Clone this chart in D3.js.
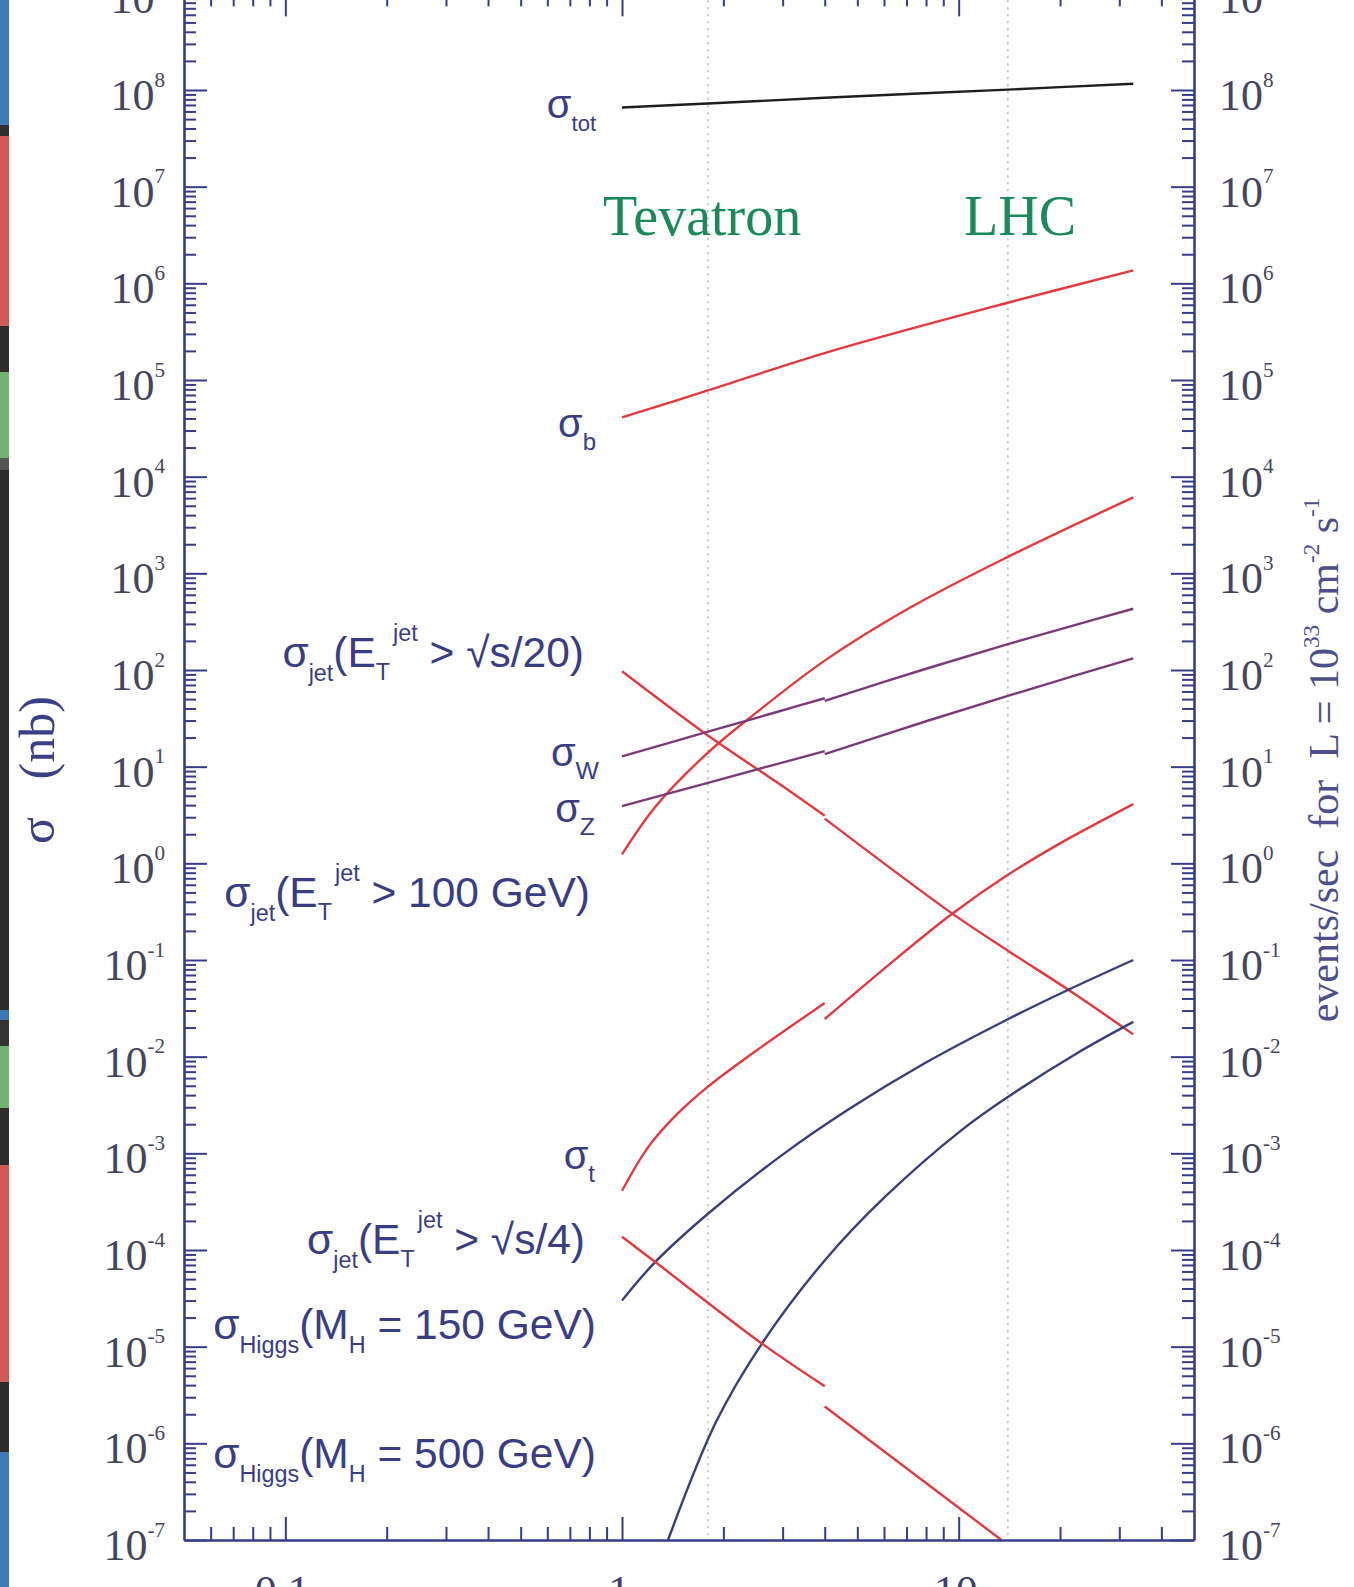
<!DOCTYPE html>
<html>
<head>
<meta charset="utf-8">
<script src="https://cdn.jsdelivr.net/npm/d3@7"></script>
<style>
  body { margin: 0; background: #fff; }
  svg { display: block; }
  text { white-space: pre; }
</style>
</head>
<body>
<svg id="chart" width="1354" height="1587"></svg>
<script>
// Cross sections (nb) versus collider energy sqrt(s) (TeV).
// Below 4 TeV the curves are for p-pbar, above 4 TeV for p-p.
const sigmaTot        = [[1, 6.6e7], [1.8, 7.25e7], [4, 8.3e7], [14, 1.01e8], [33, 1.16e8]];
const sigmaB          = [[1, 4.1e4], [1.8, 7.8e4], [4, 1.9e5], [14, 6.3e5], [33, 1.36e6]];
const sigmaJetS20Ppb  = [[1, 97], [1.8, 21], [2.9, 6.8], [4, 3.1]];
const sigmaJetS20Pp   = [[4, 2.9], [9.6, 0.3], [14, 0.125], [22, 0.045], [33, 0.017]];
const sigmaJet100     = [[1, 1.24], [1.26, 3.9], [1.8, 14], [2.5, 36], [4, 125], [7.2, 445], [14, 1480], [33, 6100]];
const sigmaWPpb       = [[1, 12.8], [1.8, 23], [2.9, 37], [4, 51]];
const sigmaWPp        = [[4, 48], [8, 103], [14, 185], [22, 290], [33, 430]];
const sigmaZPpb       = [[1, 3.9], [1.8, 6.8], [2.9, 10.7], [4, 14.5]];
const sigmaZPp        = [[4, 13.5], [8, 29.5], [14, 54], [22, 87], [33, 132]];
const sigmaTopPpb     = [[1, 4.1e-4], [1.2, 1.18e-3], [1.45, 2.5e-3], [1.8, 4.9e-3], [2.5, 0.0115], [4, 0.036]];
const sigmaTopPp      = [[4, 0.0245], [6, 0.081], [9.5, 0.295], [14, 0.76], [20, 1.61], [33, 4.1]];
const sigmaHiggs150   = [[1, 3.0e-5], [1.25, 7.4e-5], [1.8, 2.37e-4], [3, 9.7e-4], [4.7, 2.84e-3], [7.9, 8.5e-3], [14, 0.0244], [20.8, 0.0478], [33, 0.1]];
const sigmaHiggs500   = [[1.37, 1e-7], [1.9, 1.65e-6], [2.6, 1.07e-5], [4, 7.8e-5], [6.07, 3.6e-4], [10.2, 1.74e-3], [14, 3.83e-3], [22.4, 0.0108], [33, 0.0229]];
const sigmaJetS4Ppb   = [[1, 1.37e-4], [1.25, 7.6e-5], [2.6, 1.08e-5], [4, 3.9e-6]];
const sigmaJetS4Pp    = [[4, 2.4e-6], [13.4, 1e-7]];

// Collider energies marked with dotted lines
const colliderEnergies = [1.8, 14];
const colliderNames    = ["Tevatron", "LHC"];

// Axis tick labels
const xTickValues = [0.1, 1, 10];
const xTickLabels = ["0.1", "1", "10"];
const yExponents  = [-7, -6, -5, -4, -3, -2, -1, 0, 1, 2, 3, 4, 5, 6, 7, 8, 9];

// Thin band of colour along the far left edge
const edgeBlocks = [
  [0, 125, "#3d7bb6"], [125, 136, "#2f2f2f"], [136, 326, "#d05a58"], [326, 372, "#2c2c2c"],
  [372, 458, "#72b372"], [458, 470, "#555"], [470, 1010, "#2b2b2b"], [1010, 1020, "#3a78b0"],
  [1020, 1046, "#333"], [1046, 1108, "#72b372"], [1108, 1165, "#2c2c2c"], [1165, 1382, "#d05a58"],
  [1382, 1452, "#2c2c2c"], [1452, 1587, "#3d7bb6"]
];

const W = 1354, H = 1587;
const frameL = 184, frameR = 1194, frameT = -6.67, frameB = 1540;

const svg = d3.select("#chart");
svg.append("rect").attr("width", W).attr("height", H).attr("fill", "#fff");

svg.append("g").selectAll("rect").data(edgeBlocks).join("rect")
  .attr("x", 0).attr("width", 9)
  .attr("y", d => d[0]).attr("height", d => d[1] - d[0])
  .attr("fill", d => d[2]);

const x = d3.scaleLog().domain([0.05, 50]).range([frameL, frameR]);
const y = d3.scaleLog().domain([1e-7, 1e9]).range([frameB, frameT]);

const axisColor = "#363c8c";
const textNavy = "#393d84";
const tickTextColor = "#44465e";

// Minor tick positions: 2..9 within each decade
function minorTicks(lo, hi) {
  const out = [];
  for (let e = Math.floor(Math.log10(lo)); e <= Math.ceil(Math.log10(hi)); e++) {
    for (let m = 2; m <= 9; m++) {
      const v = m * Math.pow(10, e);
      if (v > lo * 1.0001 && v < hi * 0.9999) out.push(v);
    }
  }
  return out;
}
const yMajor = yExponents.map(e => Math.pow(10, e));
const yMinor = minorTicks(1e-7, 1e9);
const xMajor = xTickValues;
const xMinor = minorTicks(0.05, 50);

function axisLayer(gen, transform, values, size, withDomain) {
  const g = svg.append("g").attr("transform", transform)
    .call(gen.tickValues(values).tickSize(size).tickSizeOuter(0).tickFormat(""));
  if (withDomain) {
    g.select(".domain").attr("stroke", axisColor).attr("stroke-width", 2.6);
  } else {
    g.select(".domain").remove();
  }
  g.selectAll(".tick line").attr("stroke", axisColor).attr("stroke-width", 2);
  g.selectAll(".tick text").remove();
  return g;
}

// Dotted lines at the collider energies
svg.append("g").selectAll("line").data(colliderEnergies).join("line")
  .attr("x1", d => x(d)).attr("x2", d => x(d))
  .attr("y1", frameT).attr("y2", frameB)
  .attr("stroke", "#a8a8b4").attr("stroke-width", 1.3)
  .attr("stroke-dasharray", "2,5");

// Curves
svg.append("defs").append("clipPath").attr("id", "plotClip")
  .append("rect").attr("x", frameL).attr("y", frameT).attr("width", frameR - frameL).attr("height", frameB - frameT);

const line = d3.line().x(d => x(d[0])).y(d => y(d[1])).curve(d3.curveCatmullRom.alpha(0.5));

const red = "#e3393f", purple = "#7a3b78", navy = "#3b3e7c", black = "#1e1e1e";
const curves = [
  [sigmaTot, black],
  [sigmaB, red],
  [sigmaJetS20Ppb, red], [sigmaJetS20Pp, red],
  [sigmaJet100, red],
  [sigmaWPpb, purple], [sigmaWPp, purple],
  [sigmaZPpb, purple], [sigmaZPp, purple],
  [sigmaTopPpb, red], [sigmaTopPp, red],
  [sigmaHiggs150, navy],
  [sigmaHiggs500, navy],
  [sigmaJetS4Ppb, red], [sigmaJetS4Pp, red]
];
svg.append("g").attr("clip-path", "url(#plotClip)")
  .selectAll("path").data(curves).join("path")
  .attr("d", d => line(d[0]))
  .attr("fill", "none")
  .attr("stroke", d => d[1])
  .attr("stroke-width", 2.4)
  .attr("stroke-linecap", "butt");

// Axes: ticks point into the frame
axisLayer(d3.axisRight(y), `translate(${frameL},0)`, yMinor, 12, false);
axisLayer(d3.axisRight(y), `translate(${frameL},0)`, yMajor, 23, true);
axisLayer(d3.axisLeft(y), `translate(${frameR},0)`, yMinor, 12, false);
axisLayer(d3.axisLeft(y), `translate(${frameR},0)`, yMajor, 23, true);
axisLayer(d3.axisTop(x), `translate(0,${frameB})`, xMinor, 13, false);
axisLayer(d3.axisTop(x), `translate(0,${frameB})`, xMajor, 23, true);
axisLayer(d3.axisBottom(x), `translate(0,${frameT})`, xMinor, 13, false);
axisLayer(d3.axisBottom(x), `translate(0,${frameT})`, xMajor, 23, true);

// Text with sub- and superscripts
function richText(parent, parts, px, py, size, anchor, family, color, rotate) {
  const t = parent.append("text")
    .attr("text-anchor", anchor)
    .attr("font-family", family)
    .attr("font-size", size)
    .attr("fill", color);
  if (rotate) {
    t.attr("transform", `translate(${px},${py}) rotate(${rotate})`).attr("x", 0).attr("y", 0);
  } else {
    t.attr("x", px).attr("y", py);
  }
  let cur = 0;
  parts.forEach(p => {
    const off = p.sub ? size * (p.shift ?? 0.3) : p.sup ? -size * (p.shift ?? 0.45) : 0;
    const fs = (p.sub || p.sup) ? size * (p.scale ?? 0.6) : size;
    const ts = t.append("tspan").attr("dy", off - cur).attr("font-size", fs).text(p.t);
    if (p.dx) ts.attr("dx", p.dx);
    cur = off;
  });
  return t;
}

const serif = "'Liberation Serif', 'Times New Roman', serif";
const sans = "'Liberation Sans', Arial, Helvetica, sans-serif";

// Y tick labels on both sides
const gLabels = svg.append("g");
yExponents.forEach(e => {
  const ty = y(Math.pow(10, e)) + 20;
  const expText = e < 0 ? "-" + (-e) : String(e);
  richText(gLabels, [{ t: "10" }, { t: expText, sup: true, scale: 0.48, shift: 0.53 }], 165, ty, 44, "end", serif, tickTextColor);
  richText(gLabels, [{ t: "10" }, { t: expText, sup: true, scale: 0.48, shift: 0.53 }], 1219, ty, 44, "start", serif, tickTextColor);
});

// X tick labels (mostly below the frame edge)
xTickValues.forEach((v, i) => {
  gLabels.append("text")
    .attr("x", x(v) - 3).attr("y", 1606)
    .attr("text-anchor", "middle")
    .attr("font-family", serif).attr("font-size", 44)
    .attr("fill", "#3c3f70")
    .text(xTickLabels[i]);
});

// Axis titles
richText(svg, [{ t: "σ   (nb)" }], 54, 770, 50, "middle", serif, "#3b3f86", -90);
richText(svg, [
  { t: "events/sec  for  L = 10" },
  { t: "33", sup: true, scale: 0.55 },
  { t: " cm" },
  { t: "-2", sup: true, scale: 0.55 },
  { t: " s" },
  { t: "-1", sup: true, scale: 0.55 }
], 1338, 760, 42, "middle", serif, "#4d4f8c", -90);

// Collider names
const green = "#1b8a5b";
colliderNames.forEach((name, i) => {
  svg.append("text")
    .attr("x", [603, 964][i]).attr("y", 235)
    .attr("font-family", serif).attr("font-size", 56)
    .attr("fill", green)
    .text(name);
});

// Curve labels
const gl = svg.append("g");
const S = 42.5;
richText(gl, [{ t: "σ" }, { t: "tot", sub: true, scale: 0.55, shift: 0.33 }], 596, 118, 40, "end", sans, textNavy);
richText(gl, [{ t: "σ" }, { t: "b", sub: true, scale: 0.6, shift: 0.33 }], 596, 437, 40, "end", sans, textNavy);
richText(gl, [
  { t: "σ" }, { t: "jet", sub: true, scale: 0.55, shift: 0.33 },
  { t: "(E" }, { t: "T", sub: true, scale: 0.55, shift: 0.3 },
  { t: "jet", sup: true, scale: 0.55, shift: 0.62, dx: 3 },
  { t: " > √s/20)" }
], 584, 667, S, "end", sans, textNavy);
richText(gl, [{ t: "σ" }, { t: "W", sub: true, scale: 0.62, shift: 0.33 }], 599, 766, 40, "end", sans, textNavy);
richText(gl, [{ t: "σ" }, { t: "Z", sub: true, scale: 0.62, shift: 0.33 }], 595, 822, 40, "end", sans, textNavy);
richText(gl, [
  { t: "σ" }, { t: "jet", sub: true, scale: 0.55, shift: 0.33 },
  { t: "(E" }, { t: "T", sub: true, scale: 0.55, shift: 0.3 },
  { t: "jet", sup: true, scale: 0.55, shift: 0.62, dx: 3 },
  { t: " > 100 GeV)" }
], 590, 907, S, "end", sans, textNavy);
richText(gl, [{ t: "σ" }, { t: "t", sub: true, scale: 0.6, shift: 0.33 }], 595, 1169, 40, "end", sans, textNavy);
richText(gl, [
  { t: "σ" }, { t: "jet", sub: true, scale: 0.55, shift: 0.33 },
  { t: "(E" }, { t: "T", sub: true, scale: 0.55, shift: 0.3 },
  { t: "jet", sup: true, scale: 0.55, shift: 0.62, dx: 3 },
  { t: " > √s/4)" }
], 585, 1254, S, "end", sans, textNavy);
richText(gl, [
  { t: "σ" }, { t: "Higgs", sub: true, scale: 0.55, shift: 0.33 },
  { t: "(M" }, { t: "H", sub: true, scale: 0.55, shift: 0.33 },
  { t: " = 150 GeV)" }
], 596, 1339, S, "end", sans, textNavy);
richText(gl, [
  { t: "σ" }, { t: "Higgs", sub: true, scale: 0.55, shift: 0.33 },
  { t: "(M" }, { t: "H", sub: true, scale: 0.55, shift: 0.33 },
  { t: " = 500 GeV)" }
], 596, 1468, S, "end", sans, textNavy);
</script>
</body>
</html>
